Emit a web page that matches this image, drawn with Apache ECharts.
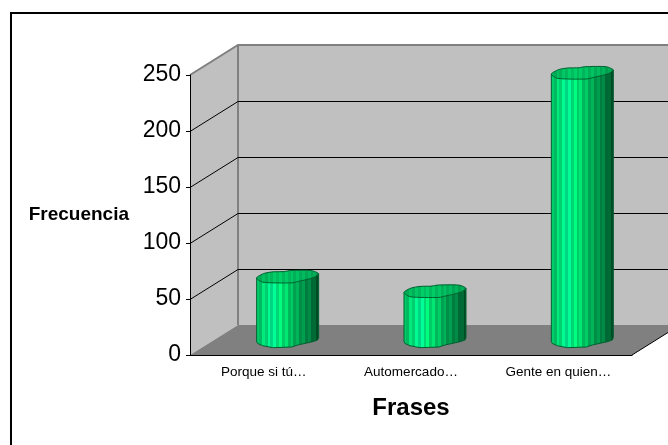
<!DOCTYPE html>
<html>
<head>
<meta charset="utf-8">
<style>html,body{margin:0;padding:0;background:#fff}#chart{width:668px;height:445px}</style>
<script src="https://cdn.jsdelivr.net/npm/echarts@6/dist/echarts.min.js"></script>
</head>
<body>
<div id="chart"></div>
<script>
// Chart content
const categories = ['Porque si tú…', 'Automercado…', 'Gente en quien…'];
const frequencies = [57, 44, 239];
const yMax = 250;
const yStep = 50;
const gridValues = [50, 100, 150, 200];

// Oblique projection of the box depth, in pixels
const DEPTH_X = 48;
const DEPTH_Y = -30;

// Irregular cylinder outline, relative to the centre of a bar end
const capOutline = [[-31, 1.7], [-24, -2.6], [-15, -4.3], [-3, -4.6], [2, -5.6], [24, -5.6], [31, -2.3],
  [25, 1.7], [10, 5.4], [4, 6.7], [-25, 6]];
const baseFront = [[31, -2.3], [30, 0], [25, 1.7], [10, 5], [4, 7], [-15, 7.7], [-25, 5.7], [-30, 3.5], [-31, 1.7]];

// Striped shading across a bar, built as hard-edged gradient bands
function rgb(r, g, b) {
  return 'rgb(' + [r, g, b].map(Math.round).join(',') + ')';
}
const bodyRamp = [[0, 205, 105], [0, 245, 130], [0, 255, 160], [0, 255, 128], [0, 225, 112],
  [0, 190, 95], [0, 160, 80], [0, 135, 68], [0, 90, 44]];
function stripes(ramp, count, dim) {
  const stops = [];
  for (let i = 0; i < count; i++) {
    const t = i / (count - 1) * (ramp.length - 1);
    const k = Math.min(Math.floor(t), ramp.length - 2);
    const f = t - k;
    const m = i % 2 ? dim : 1;
    const c = ramp[k].map((v, j) => (v + (ramp[k + 1][j] - v) * f) * m);
    stops.push({ offset: i / count, color: rgb(c[0], c[1], c[2]) });
    stops.push({ offset: (i + 1) / count, color: rgb(c[0], c[1], c[2]) });
  }
  return { type: 'linear', x: 0, y: 0, x2: 1, y2: 0, colorStops: stops };
}
const bodyFill = stripes(bodyRamp, 22, 0.84);
const capFill = stripes([[0, 185, 92], [0, 210, 105], [0, 195, 98], [0, 170, 85]], 22, 0.9);

function shift(points, cx, cy) {
  return points.map(p => [cx + p[0], cy + p[1]]);
}

// Box panels: side wall, back wall and floor
function renderPanels(params, api) {
  const cs = params.coordSys;
  const top = api.coord([0, yMax])[1];
  const bottom = api.coord([0, 0])[1];
  const left = cs.x;
  const right = cs.x + cs.width;
  const lineGrey = { stroke: '#808080', lineWidth: 2 };
  return {
    type: 'group',
    children: [
      { type: 'polygon', shape: { points: [[left, top], [left + DEPTH_X, top + DEPTH_Y], [right + DEPTH_X, top + DEPTH_Y], [right + DEPTH_X, bottom + DEPTH_Y], [left + DEPTH_X, bottom + DEPTH_Y], [left, bottom]] }, style: { fill: '#c0c0c0' } },
      { type: 'polygon', shape: { points: [[left, bottom], [left + DEPTH_X, bottom + DEPTH_Y], [right + DEPTH_X, bottom + DEPTH_Y], [right, bottom]] }, style: { fill: '#808080' } },
      { type: 'polyline', shape: { points: [[left, top], [left + DEPTH_X, top + DEPTH_Y], [right + DEPTH_X, top + DEPTH_Y]] }, style: Object.assign({ fill: null }, lineGrey) },
      { type: 'line', shape: { x1: left + DEPTH_X, y1: top + DEPTH_Y, x2: left + DEPTH_X, y2: bottom + DEPTH_Y }, style: lineGrey },
      { type: 'line', shape: { x1: right, y1: bottom, x2: right + DEPTH_X, y2: bottom + DEPTH_Y }, style: { stroke: '#000', lineWidth: 1 } }
    ]
  };
}

// Gridline running along the side wall and across the back wall
function renderGridline(params, api) {
  const cs = params.coordSys;
  const y = api.coord([0, api.value(1)])[1] + 0.5;
  return {
    type: 'polyline',
    shape: { points: [[cs.x, y], [cs.x + DEPTH_X, y + DEPTH_Y], [cs.x + cs.width + DEPTH_X, y + DEPTH_Y]] },
    style: { fill: null, stroke: '#000', lineWidth: 1 }
  };
}

// One cylinder standing halfway into the box depth
function renderBar(params, api) {
  const head = api.coord([api.value(0), api.value(1)]);
  const foot = api.coord([api.value(0), 0]);
  const cx = head[0] + DEPTH_X / 2;
  const topY = head[1] + DEPTH_Y / 2;
  const baseY = foot[1] + DEPTH_Y / 2;
  const outline = { stroke: '#00602f', lineWidth: 1 };
  const body = [[cx - 31, topY + 1.7], [cx + 31, topY - 2.3]].concat(shift(baseFront, cx, baseY));
  return {
    type: 'group',
    children: [
      { type: 'polygon', shape: { points: body }, style: Object.assign({ fill: bodyFill }, outline) },
      { type: 'polygon', shape: { points: shift(capOutline, cx, topY), smooth: 0.25 }, style: Object.assign({ fill: capFill }, outline) }
    ]
  };
}

const chart = echarts.init(document.getElementById('chart'), null, { renderer: 'canvas' });
const font = '"Liberation Sans", Arial, sans-serif';
chart.setOption({
  animation: false,
  backgroundColor: '#fff',
  grid: { left: 190, top: 75, width: 442, height: 280, containLabel: false, outerBoundsMode: 'none' },
  xAxis: {
    type: 'category',
    data: categories,
    z: 6,
    name: 'Frases',
    nameLocation: 'middle',
    nameGap: 41,
    nameTextStyle: { fontFamily: font, fontWeight: 'bold', fontSize: 24, color: '#000' },
    axisLine: { show: true, lineStyle: { color: '#000', width: 1 } },
    axisTick: { show: false },
    axisLabel: { interval: 0, margin: 10, fontFamily: font, fontSize: 13.5, color: '#000' }
  },
  yAxis: {
    type: 'value',
    min: 0,
    max: yMax,
    interval: yStep,
    z: 6,
    name: 'Frecuencia',
    nameLocation: 'middle',
    nameRotate: 0,
    nameGap: 61,
    nameTextStyle: { fontFamily: font, fontWeight: 'bold', fontSize: 19, color: '#000' },
    axisLine: { show: true, onZero: false, lineStyle: { color: '#000', width: 1 } },
    axisTick: { show: true, length: 4, lineStyle: { color: '#000', width: 1 } },
    axisLabel: { margin: 9, padding: [4, 0, 0, 0], fontFamily: font, fontSize: 23, color: '#000' },
    splitLine: { show: false }
  },
  series: [
    { type: 'custom', z: 1, silent: true, renderItem: renderPanels, data: [[0, 0]], encode: { x: 0, y: 1 } },
    { type: 'custom', z: 2, silent: true, renderItem: renderGridline, data: gridValues.map(v => [0, v]), encode: { x: 0, y: 1 } },
    { type: 'custom', z: 3, silent: true, renderItem: renderBar, data: frequencies.map((v, i) => [i, v]), encode: { x: 0, y: 1 } }
  ],
  graphic: [
    { type: 'polyline', z: 10, shape: { points: [[11, 445], [11, 13], [668, 13]] }, style: { fill: null, stroke: '#000', lineWidth: 2 } }
  ]
});
</script>
</body>
</html>
